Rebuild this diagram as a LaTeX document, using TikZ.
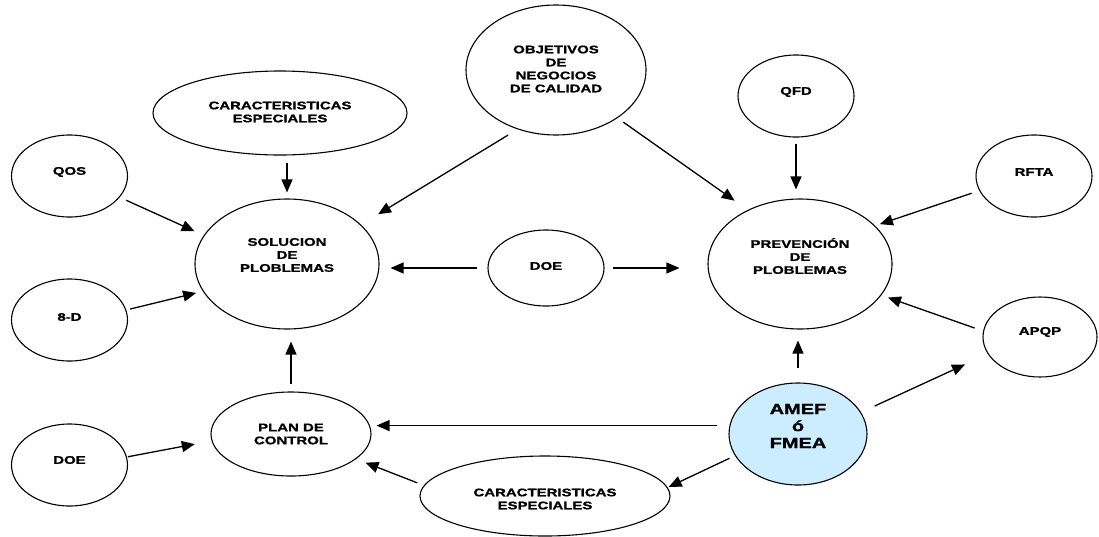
\documentclass[tikz,border=0pt]{standalone}
\usepackage{fontspec}
\setmainfont{Liberation Sans}[FakeStretch=1.36, BoldFeatures={FakeBold=1.2}]
\usetikzlibrary{shapes.geometric,arrows.meta,calc}
\definecolor{amefblue}{RGB}{204,236,255}
\tikzset{
  ell/.style={ellipse, draw, line width=1.1pt, inner sep=0pt},
  small/.style={ell, minimum width=116pt, minimum height=82pt},
  lbl/.style={align=center, inner sep=0pt, font=\bfseries\fontsize{11}{13}\selectfont},
  biglbl/.style={align=center, inner sep=0pt, font=\bfseries\fontsize{14.7}{17}\selectfont},
  arr/.style={line width=1.3pt, -{Triangle[length=13pt,width=11pt]}},
}
\begin{document}
\begin{tikzpicture}[x=1pt,y=-1pt]
\useasboundingbox (0,0) rectangle (1099,536);
% ellipses
\node[small] (qos)  at (69.5,176) {};
\node[small] (d8)   at (69.5,320) {};
\node[small] (doe2) at (69.5,465) {};
\node[small] (rfta) at (1034,176) {};
\node[small, minimum width=114pt, minimum height=80pt] (apqp) at (1040,337) {};
\node[small] (qfd)  at (796,96) {};
\node[small, minimum height=76pt] (doe)  at (546,268) {};
\node[ell, minimum width=180pt, minimum height=130pt] (obj) at (556,70) {};
\node[ell, minimum width=254pt, minimum height=84pt] (ct) at (280,113) {};
\node[ell, minimum width=184pt, minimum height=130pt] (sol) at (287,264) {};
\node[ell, minimum width=184pt, minimum height=130pt] (prev) at (800,264) {};
\node[ell, minimum width=160pt, minimum height=84pt] (plan) at (291,434) {};
\node[ell, fill=amefblue, minimum width=138pt, minimum height=102pt] (amef) at (798,434) {};
\node[ell, minimum width=250pt, minimum height=80pt] (cb) at (545,496) {};
% texts
\node[lbl] (qosT)  at ([yshift=4pt]qos.center) {QOS};
\node[lbl] (d8T)   at ([yshift=3pt]d8.center) {8-D};
\node[lbl] (doe2T) at ([yshift=5pt]doe2.center) {DOE};
\node[lbl] (rftaT) at ([yshift=4pt]rfta.center) {RFTA};
\node[lbl] (apqpT) at ([yshift=5pt]apqp.center) {APQP};
\node[lbl] (qfdT)  at ([yshift=4pt]qfd.center) {QFD};
\node[lbl] (doeT)  at ([yshift=2pt]doe.center) {DOE};
\node[lbl] (objT)  at ([yshift=1pt]obj.center) {OBJETIVOS\\DE\\NEGOCIOS\\DE CALIDAD};
\node[lbl] (ctT)   at ([yshift=1pt]ct.center) {CARACTERISTICAS\\ESPECIALES};
\node[lbl] (solT)  at ([yshift=9pt]sol.center) {SOLUCION\\DE\\PLOBLEMAS};
\node[lbl] (prevT) at ([yshift=8pt]prev.center) {PREVENCIÓN\\DE\\PLOBLEMAS};
\node[lbl] (planT) at (plan.center) {PLAN DE\\CONTROL};
\node[biglbl] (amefT) at ([yshift=8pt]amef.center) {AMEF\\ó\\FMEA};
\node[lbl] (cbT)   at ([yshift=-3pt]cb.center) {CARACTERISTICAS\\ESPECIALES};
% connectors
\draw[arr, shorten <=7pt, shorten >=6pt] (sol.north |- ct.south) -- (sol.north);
\draw[arr, shorten <=7pt, shorten >=10pt] (qos.-23) -- (sol.161);
\draw[arr, shorten <=11pt, shorten >=20pt] (obj.-123) -- (sol.28);
\draw[arr, shorten <=7pt, shorten >=16pt] (obj.-38) -- (prev.134);
\draw[arr, shorten <=6pt, shorten >=9pt] (qfd.south) -- (qfd.south |- prev.north);
\draw[arr, shorten <=8pt, shorten >=5pt] (rfta.-165) -- (prev.27);
\draw[arr, shorten <=10pt, shorten >=11pt] (doe.west) -- (sol.east |- doe.west);
\draw[arr, shorten <=8pt, shorten >=28pt] (doe.east) -- (prev.west |- doe.east);
\draw[arr, shorten <=4pt, shorten >=7pt] (d8.10) -- (sol.-162);
\draw[arr, shorten <=7pt, shorten >=12pt] (plan.north) -- (plan.north |- sol.south);
\draw[arr, shorten <=14pt, shorten >=11pt] (amef.north) -- (amef.north |- prev.south);
\draw[arr, shorten <=9pt, shorten >=7pt] (apqp.174) -- (prev.-21);
\draw[arr, shorten <=15pt, shorten >=25pt] (amef.19) -- (apqp.-162);
\draw[arr, shorten <=12pt, shorten >=5pt] (amef.173) -- (plan.east |- amef.173);
\draw[arr, shorten <=6pt, shorten >=1pt] (amef.-161) -- (cb.4);
\draw[arr, shorten <=7pt, shorten >=10pt] (cb.175) -- (plan.-21);
\draw[arr, shorten <=1pt, shorten >=17pt] (doe2.8) -- (plan.-175);
\end{tikzpicture}
\end{document}
